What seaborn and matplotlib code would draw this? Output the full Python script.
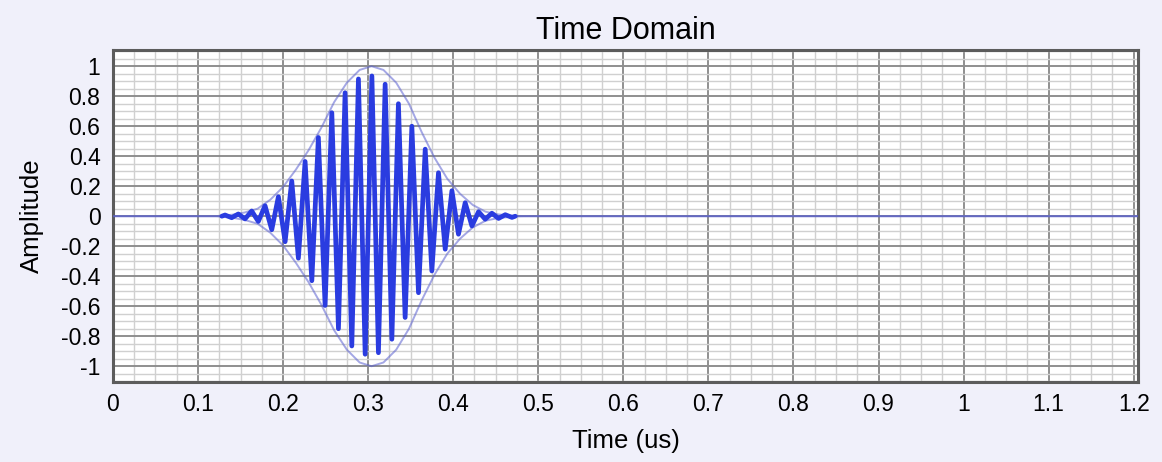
import numpy as np
import pandas as pd
import seaborn as sns
import matplotlib.pyplot as plt
from matplotlib.ticker import MultipleLocator, FuncFormatter

# ---- data (time in us, amplitude) ----
# signal: extrema of the tone burst, with zero at both ends
time_us = [0.128,
           0.1318, 0.1396, 0.1474, 0.1553, 0.1631, 0.1709, 0.1788, 0.1867,
           0.1945, 0.2024, 0.2102, 0.2180, 0.2259, 0.2338, 0.2415, 0.2494,
           0.2573, 0.2651, 0.2729, 0.2808, 0.2886, 0.2965, 0.3044, 0.3121,
           0.3200, 0.3279, 0.3356, 0.3435, 0.3514, 0.3592, 0.3671, 0.3749,
           0.3827, 0.3906, 0.3985, 0.4062, 0.4141, 0.4220, 0.4298, 0.4376,
           0.4455, 0.4533, 0.4612, 0.4691,
           0.473]
amplitude = [0.0,
             0.008, -0.010, 0.015, -0.018, 0.035, -0.035, 0.070, -0.090,
             0.130, -0.170, 0.235, -0.280, 0.365, -0.430, 0.525, -0.595,
             0.690, -0.750, 0.823, -0.865, 0.915, -0.920, 0.935, -0.910,
             0.880, -0.820, 0.750, -0.675, 0.600, -0.510, 0.447, -0.365,
             0.290, -0.220, 0.170, -0.120, 0.090, -0.065, 0.030, -0.020,
             0.020, -0.015, 0.010, -0.008,
             0.0]

# envelope (upper half; lower half is its mirror)
env_t = [0.0, 0.120, 0.140, 0.155, 0.170, 0.185, 0.200, 0.215, 0.230,
         0.245, 0.260, 0.275, 0.290, 0.304, 0.318, 0.333, 0.348, 0.363,
         0.378, 0.393, 0.408, 0.423, 0.438, 0.453, 0.470, 0.490, 1.205]
env_upper = [0.0, 0.0, 0.010, 0.025, 0.050, 0.110, 0.195, 0.310, 0.440,
             0.590, 0.760, 0.890, 0.975, 1.000, 0.975, 0.890, 0.750, 0.560,
             0.390, 0.250, 0.150, 0.075, 0.030, 0.012, 0.003, 0.0, 0.0]

x_ticks = [0, 0.1, 0.2, 0.3, 0.4, 0.5, 0.6, 0.7, 0.8, 0.9, 1.0, 1.1, 1.2]
y_ticks = [-1, -0.8, -0.6, -0.4, -0.2, 0, 0.2, 0.4, 0.6, 0.8, 1]

# ---- styling ----
sns.set_theme(style="white")
plt.rcParams['font.family'] = ['Liberation Sans', 'DejaVu Sans']
plt.rcParams['axes.unicode_minus'] = False

fig = plt.figure(figsize=(11.62, 4.62), dpi=100, facecolor='#f0f0fa')
ax = fig.add_axes([0.0972, 0.1732, 0.8821, 0.7186])
ax.set_facecolor('white')

n = len(env_t)
env_df = pd.DataFrame({
    't': env_t + env_t,
    'a': env_upper + [-v for v in env_upper],
    'side': ['upper'] * n + ['lower'] * n,
})
sns.lineplot(data=env_df, x='t', y='a', units='side', estimator=None,
             sort=False, color='#5a60d0', alpha=0.55, linewidth=1.4,
             ax=ax, zorder=3)

sig_df = pd.DataFrame({'t': time_us, 'a': amplitude})
sns.lineplot(data=sig_df, x='t', y='a', estimator=None, sort=False,
             color='#2a3ce0', linewidth=3.4, ax=ax, zorder=4)
for ln in ax.get_lines():
    ln.set_solid_joinstyle('round')
    ln.set_solid_capstyle('round')

ax.set_xlim(0, 1.205)
ax.set_ylim(-1.105, 1.108)
ax.set_xticks(x_ticks)
ax.set_yticks(y_ticks)
ax.xaxis.set_minor_locator(MultipleLocator(0.025))
ax.yaxis.set_minor_locator(MultipleLocator(0.05))
fmt = FuncFormatter(lambda v, p: f'{round(v, 3):g}')
ax.xaxis.set_major_formatter(fmt)
ax.yaxis.set_major_formatter(fmt)

ax.set_axisbelow(True)
ax.grid(which='minor', color='#d0d0d0', linewidth=1.0)
ax.grid(which='major', color='#8f8f8f', linewidth=1.4)
ax.tick_params(which='both', length=0, labelsize=16.5, colors='black')
ax.tick_params(axis='x', pad=8)
ax.tick_params(axis='y', pad=9)

for s in ax.spines.values():
    s.set_visible(True)
    s.set_color('#5c5c5c')
    s.set_linewidth(2.2)

ax.set_title('Time Domain', fontsize=22, pad=8, color='black')
ax.set_xlabel('Time (us)', fontsize=18.5, labelpad=9, color='black')
ax.set_ylabel('Amplitude', fontsize=18.5, labelpad=12, color='black')

fig.savefig('out.png', dpi=100, facecolor=fig.get_facecolor())
